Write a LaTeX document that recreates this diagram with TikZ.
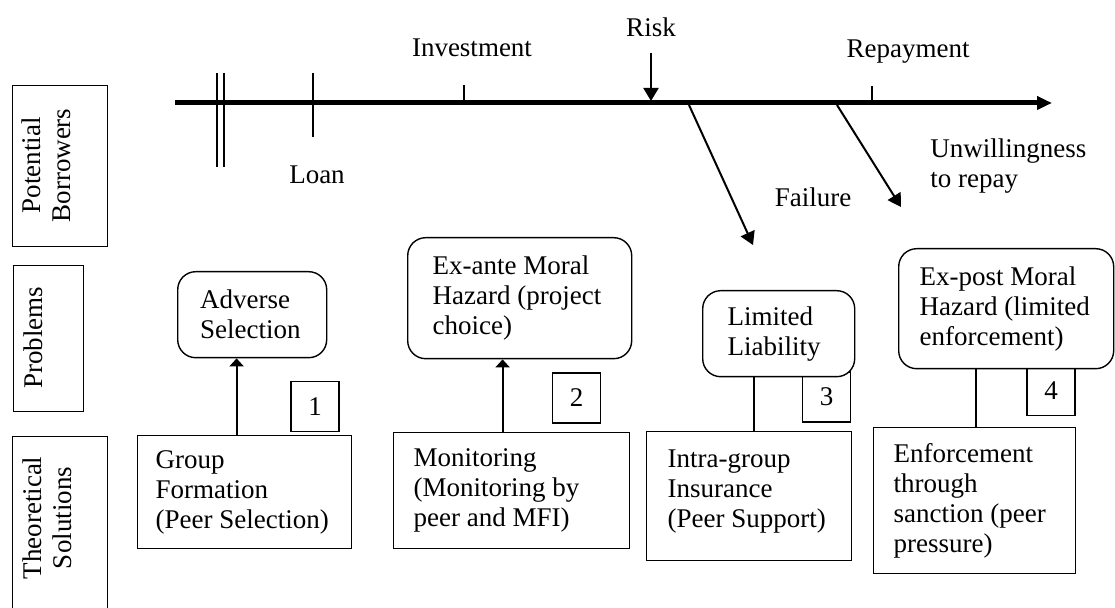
\documentclass[tikz,border=0pt]{standalone}
\usepackage{fontspec}
\setmainfont{Liberation Serif}
\usetikzlibrary{arrows.meta, positioning}
\tikzset{
    every node/.style={font=\fontsize{13.5}{15}\selectfont},
    lado/.style={rectangle, draw=black, line width=0.6pt, anchor=north west},
    textolado/.style={rotate=90, anchor=north, align=center, inner sep=0pt},
    problema/.style={rectangle, rounded corners=9pt, draw=black, fill=white, line width=0.7pt,
        align=flush left, inner ysep=0pt, anchor=north west},
    solucion/.style={rectangle, draw=black, fill=white, line width=0.6pt,
        align=flush left, inner ysep=0pt, anchor=north west},
    numero/.style={rectangle, draw=black, line width=0.6pt, inner sep=0pt,
        minimum width=24pt, minimum height=25pt},
    eje/.style={line width=2.5pt, -{Triangle[length=7.5pt, width=6.5pt]}},
    evento/.style={line width=1pt, -{Triangle[length=6.5pt, width=7.5pt]}},
    flecha/.style={line width=1pt, -{Triangle[length=4pt, width=7pt]}},
    union/.style={line width=1pt},
    marca/.style={line width=0.6pt},
    barra/.style={line width=1.4pt}}

\begin{document}
\begin{tikzpicture}[x=0.5pt, y=-0.5pt]
    \useasboundingbox (0,0) rectangle (1115,608);
    % Columna izquierda
    \node[lado, minimum width=47.5pt, minimum height=80.5pt] (pot) at (12,85) {};
    \node[lado, minimum width=35pt, minimum height=73pt] (prob) at (13,265) {};
    \node[lado, minimum width=47.5pt, minimum height=95pt] (teo) at (12,436) {};
    \node[textolado] (tpot) at (21,165.5) {Potential\\Borrowers};
    \node[textolado] (tprob) at (23,338) {Problems};
    \node[textolado] (tteo) at (22,518) {Theoretical\\Solutions};

    % Linea de tiempo
    \coordinate (ini) at (175,103);
    \coordinate (fin) at (1052,103);
    \draw[eje] (ini) -- (fin);
    \draw[barra] (217,73) -- (217,167);
    \draw[barra] (224,73) -- (224,167);
    \draw[marca] (313,73) -- (313,137);
    \draw[marca] (464,85) -- (464,103);
    \draw[marca] (872,86) -- (872,103);
    \node (prestamo) at (317,175) {Loan};
    \node (inversion) at (472,48) {Investment};
    \node (riesgo) at (651,27) {Risk};
    \node (pago) at (908,52) {Repayment};
    \node (fracaso) at (813,197) {Failure};
    \node[align=left, anchor=west, inner sep=0pt] (nopago) at (930,166) {Unwillingness\\to repay};
    \coordinate (r0) at (651,53);
    \coordinate (r1) at (651,101);
    \coordinate (f0) at (689,105);
    \coordinate (f1) at (753,245);
    \coordinate (u0) at (837,105);
    \coordinate (u1) at (901,207);
    \draw[evento] (r0) -- (r1);
    \draw[evento] (f0) -- (f1);
    \draw[evento] (u0) -- (u1);

    % Numeros
    \node[numero] (n1) at (315,406.5) {1};
    \node[numero] (n2) at (576.5,398) {2};
    \node[numero] (n3) at (826.5,397) {3};
    \node[numero] (n4) at (1051,390.5) {4};

    % Problemas
    \node[problema, inner xsep=11.25pt, text width=52pt, minimum height=43pt] (adversa) at (177,271) {Adverse\\Selection};
    \node[problema, inner xsep=12.5pt, text width=87pt, minimum height=60.5pt] (exante) at (407,237) {Ex-ante Moral\\Hazard (project\\choice)};
    \node[problema, inner xsep=12.5pt, text width=51pt, minimum height=43pt] (limitada) at (702,290) {Limited\\Liability};
    \node[problema, inner xsep=10.5pt, text width=86.5pt, minimum height=60pt] (expost) at (898,248) {Ex-post Moral\\Hazard (limited\\enforcement)};

    % Soluciones
    \node[solucion, inner xsep=9pt, text width=89pt, minimum height=56.5pt] (grupo) at (137,435) {Group\\Formation\\(Peer Selection)};
    \node[solucion, inner xsep=10pt, text width=98pt, minimum height=58pt] (monitoreo) at (393,432) {Monitoring\\(Monitoring by\\peer and MFI)};
    \node[solucion, inner xsep=10.5pt, text width=81.5pt, minimum height=64.5pt] (seguro) at (646,431) {Intra-group\\Insurance\\(Peer Support)\\[-8pt]\mbox{}};
    \node[solucion, inner xsep=10pt, text width=81pt, minimum height=73pt] (sancion) at (873,427) {Enforcement\\through\\sanction (peer\\pressure)};

    % Conexiones
    \draw[flecha] ([xshift=-4pt]grupo.north) -- ([xshift=-4pt]grupo.north |- adversa.south);
    \draw[flecha] ([xshift=-4.5pt]monitoreo.north) -- ([xshift=-4.5pt]monitoreo.north |- exante.south);
    \draw[union] ([xshift=2.25pt]seguro.north) -- ([xshift=2.25pt]seguro.north |- limitada.south);
    \draw[union] ([xshift=0.5pt]sancion.north) -- ([xshift=0.5pt]sancion.north |- expost.south);
\end{tikzpicture}
\end{document}
